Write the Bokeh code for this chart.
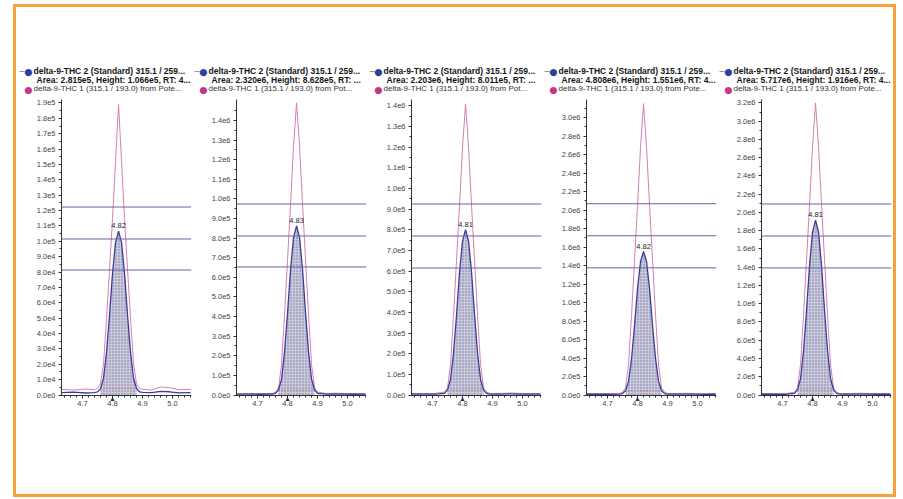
from bokeh.plotting import figure
from bokeh.layouts import row, column
from bokeh.models import (ColumnDataSource, Span, FixedTicker,
                          CustomJSTickFormatter, PrintfTickFormatter)
from bokeh.core.properties import value
from bokeh.embed import file_html
from bokeh.resources import INLINE

# ---------------- data ----------------
RT = [4.63, 4.67, 4.71, 4.74, 4.75, 4.76, 4.77, 4.78, 4.79, 4.80, 4.81, 4.82, 4.83,
      4.84, 4.85, 4.86, 4.87, 4.88, 4.89, 4.90, 4.93, 4.96, 4.99, 5.02, 5.06]

P1_BLUE = [1500, 1900, 1300, 1600, 2000, 4100, 11000, 27800, 52000, 79300, 99300, 106600, 99100,
           79000, 51800, 27600, 10900, 4200, 2100, 1700, 1500, 2300, 2100, 1400, 1600]
P1_PINK = [3600, 3200, 3900, 3400, 4400, 7200, 20200, 49900, 81400, 114800, 151900, 189000, 151900,
           114800, 81400, 49900, 20200, 7200, 4300, 3700, 3300, 5200, 4800, 3400, 3600]
P2_BLUE = [4000, 4500, 3800, 4200, 4000, 8300, 25500, 81300, 218700, 416200, 639500, 802700, 862800,
           802700, 639500, 416200, 218700, 81300, 25500, 8300, 4500, 5000, 4200, 3900, 4300]
P2_PINK = [7000, 6500, 7800, 7200, 7400, 14400, 36700, 155300, 407400, 689200, 971000, 1267600, 1490000,
           1267600, 971000, 689200, 407400, 155300, 36700, 14400, 8000, 9000, 7500, 6800, 7200]
P3_BLUE = [3800, 4300, 4100, 8000, 23900, 75700, 203300, 386600, 593900, 745300, 801100, 745300, 593900,
           386600, 203300, 75700, 23900, 8000, 4500, 4200, 4600, 5200, 4300, 3900, 4100]
P3_PINK = [7200, 6800, 7500, 14000, 35100, 147300, 385800, 652400, 919000, 1199600, 1410000, 1199600, 919000,
           652400, 385800, 147300, 35100, 14000, 8000, 7400, 7900, 9500, 7600, 7000, 7300]
P4_BLUE = [8000, 9000, 7500, 8500, 15700, 46600, 146900, 393800, 748600, 1149800, 1443000, 1551000, 1443000,
           1149800, 748600, 393800, 146900, 46600, 15700, 9000, 8500, 10000, 8800, 7800, 8200]
P4_PINK = [15000, 14000, 16500, 15500, 30700, 77700, 328500, 861500, 1457100, 2052800, 2679800, 3150000, 2679800,
           2052800, 1457100, 861500, 328500, 77700, 30700, 17000, 16000, 19000, 16000, 15000, 15500]
P5_BLUE = [8000, 8800, 7600, 17500, 55700, 179700, 485000, 923800, 1419900, 1782400, 1916000, 1782400, 1419900,
           923800, 485000, 179700, 55700, 17500, 9000, 8500, 9000, 10500, 8700, 8000, 8300]
P5_PINK = [15000, 14500, 16000, 30900, 78700, 333500, 874900, 1480100, 2085300, 2722300, 3200000, 2722300, 2085300,
           1480100, 874900, 333500, 78700, 30900, 17000, 16000, 16500, 19500, 16000, 15000, 15500]

APEX_RT = [4.82, 4.83, 4.81, 4.82, 4.81]
BLUE_HEIGHT = [1.066e5, 8.628e5, 8.011e5, 1.551e6, 1.916e6]
EXPECTED_RT = [4.80, 4.80, 4.80, 4.80, 4.80]
INT_START = [4.76, 4.77, 4.75, 4.76, 4.75]
INT_END = [4.88, 4.89, 4.87, 4.88, 4.87]

RATIO_LINES = [
    [1.223e5, 1.015e5, 8.13e4],
    [9.74e5, 8.11e5, 6.53e5],
    [9.25e5, 7.70e5, 6.15e5],
    [2.068e6, 1.722e6, 1.375e6],
    [2.093e6, 1.742e6, 1.392e6],
]

Y_TICK_STEP = [1e4, 1e5, 1e5, 2e5, 2e5]
Y_TICK_MAX = [1.9e5, 1.4e6, 1.4e6, 3.0e6, 3.2e6]
Y_END = [1.9225e5, 1.507e6, 1.431e6, 3.195e6, 3.238e6]
X_TICKS = [4.7, 4.8, 4.9, 5.0]
X_RANGE = (4.63, 5.063)

HEADER_1 = "delta-9-THC 2 (Standard) 315.1 / 259..."
AREAS = ["2.815e5", "2.320e6", "2.203e6", "4.808e6", "5.717e6"]
HEIGHTS = ["1.066e5", "8.628e5", "8.011e5", "1.551e6", "1.916e6"]
RT_TAIL = ["4...", "...", "...", "4...", "4..."]
HEADER_3 = "delta-9-THC 1 (315.1 / 193.0) from "
HEADER_3_TAIL = ["Pote...", "Pot...", "Pot...", "Pote...", "Pote..."]

BLUE = [P1_BLUE, P2_BLUE, P3_BLUE, P4_BLUE, P5_BLUE]
PINK = [P1_PINK, P2_PINK, P3_PINK, P4_PINK, P5_PINK]

# ---------------- styles ----------------
FONT = "Liberation Sans"
BLUE_C = "#3a3a98"
PINK_C = "#d47fb6"
LINE_C = "#66669e"
FILL_C = "#cacadc"
ORANGE = "#f5a23a"

PW = 175
HH = 88                      # header strip height
PH = 333                     # plot height
ML, MR, MT, MB = 43, 2, 4, 20
FH = PH - MT - MB            # frame height (309)
ZERO_FROM_BOTTOM = 13.5      # px between frame bottom and y=0

yfmt_code = """
if (Math.abs(tick) < 1e-9) { return "0.0e0"; }
const e = Math.floor(Math.log10(Math.abs(tick)) + 1e-9);
const m = tick / Math.pow(10, e);
return m.toFixed(1) + "e" + e;
"""


def header_fig(i):
    h = figure(width=PW, height=HH, x_range=(0, PW), y_range=(HH, 0),
               output_backend="svg", toolbar_location=None, frame_align=False,
               min_border_left=0, min_border_right=0, min_border_top=0, min_border_bottom=0)
    h.axis.visible = False
    h.grid.visible = False
    h.outline_line_color = None
    y1, y2, y3 = 63, 72, 81
    h.text(x=[1], y=[y1], text=["–"], text_font=value(FONT), text_font_size="9px",
           text_color="#666666", text_align="left", text_baseline="middle")
    h.text(x=[10], y=[y1 + 0.5], text=["●"], text_font=value("DejaVu Sans"), text_font_size="9.5px",
           text_color="#2e3d9e", text_align="center", text_baseline="middle")
    h.text(x=[15], y=[y1], text=[HEADER_1], text_font=value(FONT), text_font_size="8.5px",
           text_font_style="bold", text_color="#151515", text_align="left", text_baseline="middle")
    h.text(x=[18], y=[y2], text=[f"Area: {AREAS[i]}, Height: {HEIGHTS[i]}, RT: {RT_TAIL[i]}"],
           text_font=value(FONT), text_font_size="8.5px", text_font_style="bold",
           text_color="#151515", text_align="left", text_baseline="middle")
    h.text(x=[10], y=[y3 + 0.5], text=["●"], text_font=value("DejaVu Sans"), text_font_size="9.5px",
           text_color="#c2378c", text_align="center", text_baseline="middle")
    h.text(x=[15], y=[y3], text=[HEADER_3 + HEADER_3_TAIL[i]], text_font=value(FONT),
           text_font_size="8px", text_color="#333333", text_align="left", text_baseline="middle")
    return h


def plot_fig(i):
    yend = Y_END[i]
    ystart = -yend * ZERO_FROM_BOTTOM / (FH - ZERO_FROM_BOTTOM)
    p = figure(width=PW, height=PH, x_range=X_RANGE, y_range=(ystart, yend),
               output_backend="svg", toolbar_location=None, frame_align=False,
               min_border_left=ML, min_border_right=MR, min_border_top=MT, min_border_bottom=MB)
    p.outline_line_color = None
    p.xgrid.visible = False
    p.ygrid.visible = False

    step = Y_TICK_STEP[i]
    n = int(round(Y_TICK_MAX[i] / step))
    yt = [k * step for k in range(n + 1)]
    ym = [k * step / 2 for k in range(2 * n + 2)]
    p.yaxis.ticker = FixedTicker(ticks=yt, minor_ticks=ym)
    p.yaxis.formatter = CustomJSTickFormatter(code=yfmt_code)
    p.yaxis.bounds = (0, yend)
    p.xaxis.ticker = FixedTicker(ticks=X_TICKS, minor_ticks=[4.64 + 0.02 * k for k in range(22)])
    p.xaxis.formatter = PrintfTickFormatter(format="%.1f")
    p.xaxis.fixed_location = 0
    for ax in (p.xaxis, p.yaxis):
        ax.axis_line_color = "#303030"
        ax.major_tick_line_color = "#303030"
        ax.minor_tick_line_color = "#303030"
        ax.major_tick_out = 3
        ax.major_tick_in = 0
        ax.minor_tick_out = 2
        ax.minor_tick_in = 0
        ax.major_label_text_font = FONT
        ax.major_label_text_font_size = "7.5px"
        ax.major_label_text_color = "#444444"
        ax.major_label_standoff = 3

    src = ColumnDataSource(dict(x=RT, blue=BLUE[i], pink=PINK[i]))
    sel = [k for k, x in enumerate(RT) if INT_START[i] - 1e-9 <= x <= INT_END[i] + 1e-9]
    xs = [RT[k] for k in sel]
    bs = [BLUE[i][k] for k in sel]
    fsrc = ColumnDataSource(dict(x=xs, y2=bs, y1=[0] * len(xs)))

    p.varea(x="x", y1="y1", y2="y2", source=fsrc, fill_color=FILL_C, fill_alpha=1.0,
            hatch_pattern="dot", hatch_color="#5f5f92", hatch_scale=3, hatch_alpha=0.8)
    p.line(x="x", y="pink", source=src, line_color=PINK_C, line_width=1)
    p.line(x="x", y="blue", source=src, line_color=BLUE_C, line_width=1.3)
    p.line(x=[xs[0], xs[-1]], y=[bs[0], bs[-1]], line_color="#e0602a", line_width=1,
           line_dash="1 2")

    for lv in RATIO_LINES[i]:
        p.add_layout(Span(location=lv, dimension="width", line_color=LINE_C, line_width=1))

    p.text(x=[APEX_RT[i]], y=[BLUE_HEIGHT[i]], text=[f"{APEX_RT[i]:.2f}"],
           text_font=value(FONT), text_font_size="7.5px", text_color="#222222",
           text_align="center", text_baseline="bottom", y_offset=-3)

    p.text(x=[EXPECTED_RT[i]], y=[0], text=["▲"], text_font_size="7px",
           text_color="#1c2a78", text_align="center", text_baseline="top", y_offset=0)
    return p


cols = [column(header_fig(i), plot_fig(i), spacing=0) for i in range(5)]
inner = row(*cols, spacing=0)
lay = column(inner, styles={"border": f"3px solid {ORANGE}", "padding-left": "2px",
                            "padding-bottom": "66px"},
             margin=(4, 0, 0, 13))

open("out.html", "w").write(file_html(lay, INLINE))
